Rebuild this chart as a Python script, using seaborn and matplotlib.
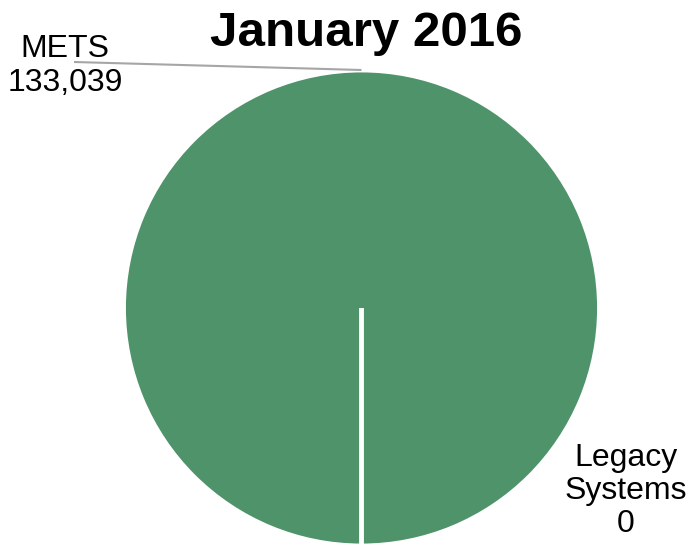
import numpy as np
import matplotlib
matplotlib.use("Agg")
import matplotlib.pyplot as plt
import seaborn as sns

# Enrollment by system, January 2016
title = "January 2016"
systems = ["METS", "Legacy Systems"]
counts = [133039, 0]
colors = ["#4F936A", "#A5A5A5"]

sns.set_theme(style="white")
plt.rcParams["font.family"] = ["Liberation Sans", "DejaVu Sans"]

W, H, DPI = 691, 545, 100
fig = plt.figure(figsize=(W / DPI, H / DPI), dpi=DPI)
ax = fig.add_axes([0, 0, 1, 1])

wedges, _ = ax.pie(
    counts,
    colors=colors,
    startangle=270,
    counterclock=True,
    radius=1.0,
    wedgeprops=dict(edgecolor="white", linewidth=3.5),
)
ax.set_axis_off()

# pie centre and radius in pixels; axes limits map 1 data unit to the radius
cx, cy, R = 361.5, 308.0, 238.0
ax.set_xlim(-cx / R, (W - cx) / R)
ax.set_ylim(-(H - cy) / R, cy / R)
ax.set_aspect("equal")

def px(x, y):
    """pixel position (from top-left) to data coordinates"""
    return ((x - cx) / R, (cy - y) / R)

# METS label with a leader line to the middle of its wedge
w = wedges[0]
mid = np.deg2rad((w.theta1 + w.theta2) / 2)
edge = (np.cos(mid), np.sin(mid))
start = px(74, 62)
ax.plot([start[0], edge[0]], [start[1], edge[1]], color="#A6A6A6",
        lw=1.5, solid_capstyle="butt")
ax.text(*px(65, 57), systems[0], ha="center", va="baseline",
        fontsize=23, color="black")
ax.text(*px(65, 91), f"{counts[0]:,}", ha="center", va="baseline",
        fontsize=23, color="black")

# Legacy Systems label
for line, ybase in zip(["Legacy", "Systems", f"{counts[1]:,}"], [466, 499, 532]):
    ax.text(*px(626, ybase), line, ha="center", va="baseline",
            fontsize=23, color="black")

fig.text(366.5 / W, 1 - 46 / H, title, ha="center", va="baseline",
         fontsize=35.5, fontweight="bold", color="black")

fig.savefig("out.png", dpi=DPI, facecolor="white")
